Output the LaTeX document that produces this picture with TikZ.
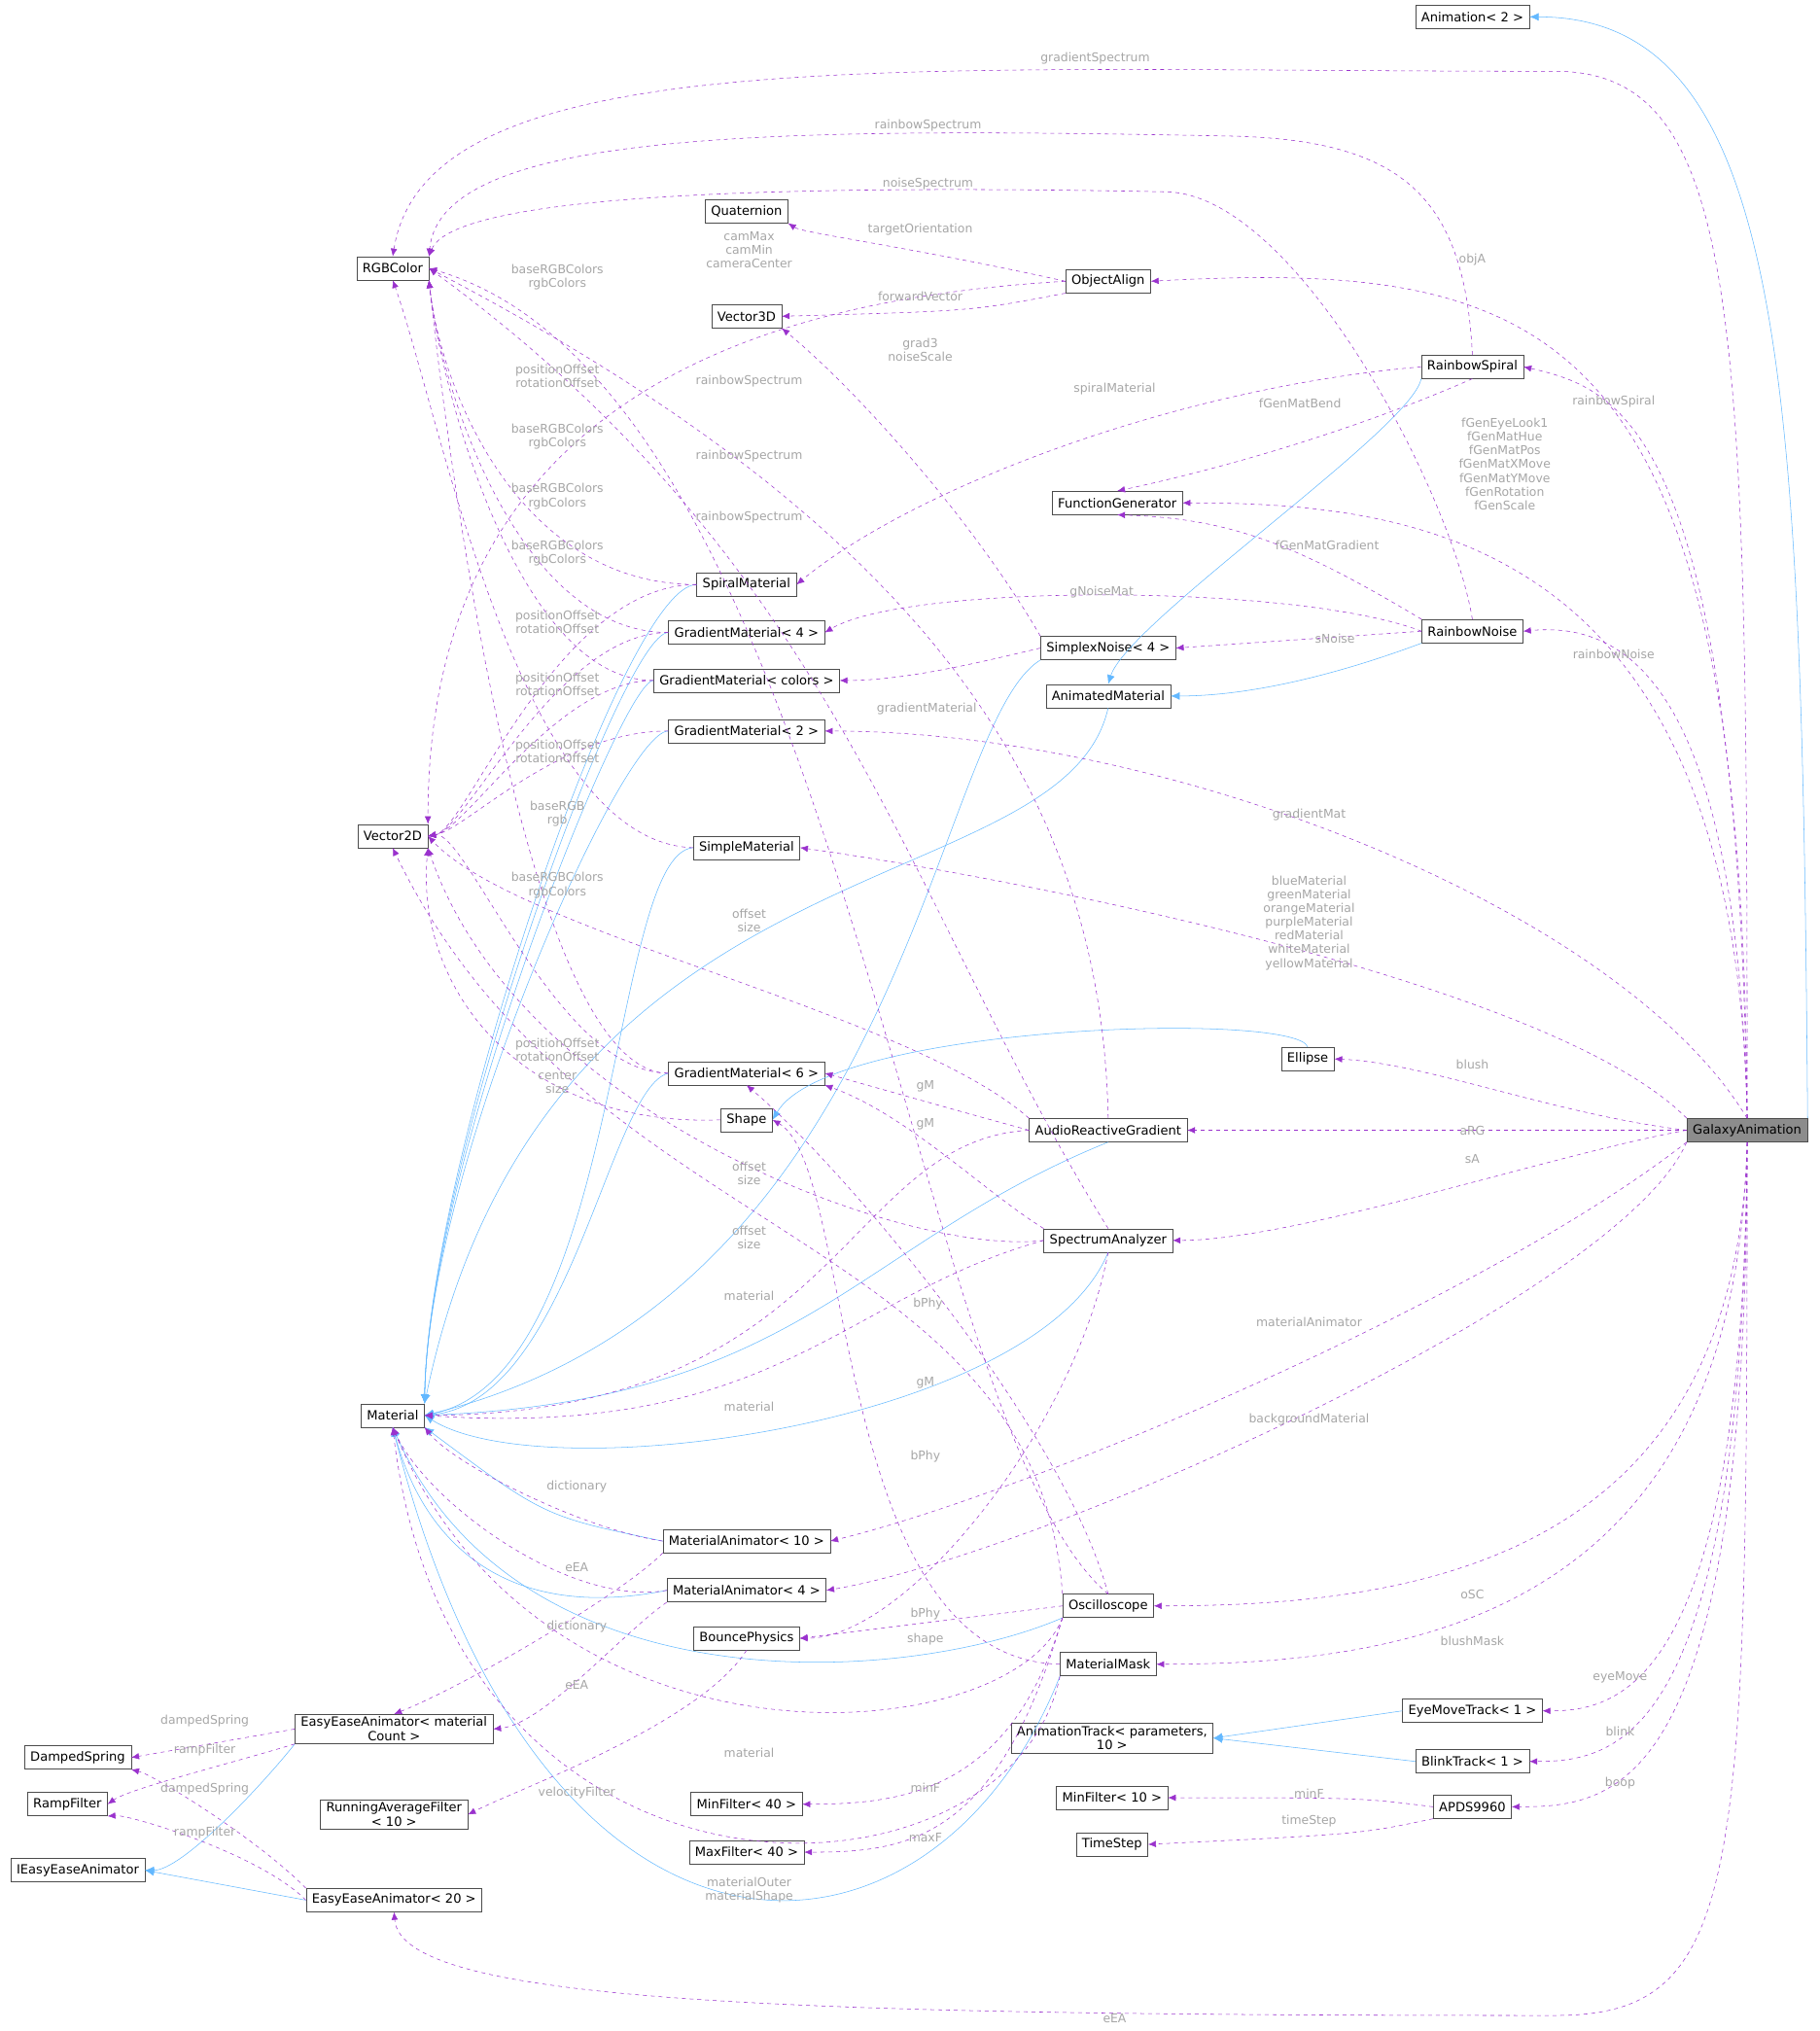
\documentclass[tikz,border=0pt]{standalone}
\usepackage{fontspec}
\setmainfont{DejaVu Sans}
\usetikzlibrary{arrows.meta}
\definecolor{usec}{HTML}{9A32CD}
\definecolor{inhc}{HTML}{63B8FF}
\begin{document}
\begin{tikzpicture}[x=1pt,y=-1pt,
 box/.style={draw=black!70,fill=white,font=\fontsize{9.8}{11}\selectfont,inner xsep=4.5pt,inner ysep=2pt,minimum height=18pt,align=center},
 use/.style={draw=usec,dashed,-{Latex[length=6pt,width=5pt]}},
 inh/.style={draw=inhc,-{Latex[length=7pt,width=6pt]}},
 lbl/.style={text=black!35,font=\fontsize{9.3}{10.6}\selectfont,align=center}]
\useasboundingbox (0,0) rectangle (1404,1567);
% nodes
\node[box] (anim) at (1136,13) {Animation< 2 >};
\node[box] (rgb) at (303,207) {RGBColor};
\node[box] (quat) at (576,163) {Quaternion};
\node[box] (oa) at (855,217) {ObjectAlign};
\node[box] (v3) at (576,244) {Vector3D};
\node[box] (rs) at (1136,283) {RainbowSpiral};
\node[box] (fg) at (862,388) {FunctionGenerator};
\node[box] (sm) at (576,451) {SpiralMaterial};
\node[box] (g4) at (576,488) {GradientMaterial< 4 >};
\node[box] (gc) at (576,525) {GradientMaterial< colors >};
\node[box] (g2) at (576,564) {GradientMaterial< 2 >};
\node[box] (sn) at (855,500) {SimplexNoise< 4 >};
\node[box] (rn) at (1136,487) {RainbowNoise};
\node[box] (am) at (855,537) {AnimatedMaterial};
\node[box] (v2) at (303,645) {Vector2D};
\node[box] (simp) at (576,654) {SimpleMaterial};
\node[box] (ell) at (1009,817) {Ellipse};
\node[box] (g6) at (576,828) {GradientMaterial< 6 >};
\node[box] (shape) at (576,864) {Shape};
\node[box] (arg) at (855,872) {AudioReactiveGradient};
\node[box,fill=black!45] (gal) at (1348,872) {GalaxyAnimation};
\node[box] (sa) at (855,957) {SpectrumAnalyzer};
\node[box] (mat) at (303,1092) {Material};
\node[box] (ma10) at (576,1189) {MaterialAnimator< 10 >};
\node[box] (ma4) at (576,1227) {MaterialAnimator< 4 >};
\node[box] (osc) at (855,1239) {Oscilloscope};
\node[box] (bp) at (576,1264) {BouncePhysics};
\node[box] (mm) at (855,1284) {MaterialMask};
\node[box] (eemc) at (304,1334) {EasyEaseAnimator< material\\Count >};
\node[box] (ds) at (60,1356) {DampedSpring};
\node[box] (rf) at (52,1392) {RampFilter};
\node[box] (iee) at (60,1443) {IEasyEaseAnimator};
\node[box] (ee20) at (304,1466) {EasyEaseAnimator< 20 >};
\node[box] (raf) at (304,1400) {RunningAverageFilter\\< 10 >};
\node[box] (at) at (858,1341) {AnimationTrack< parameters,\\10 >};
\node[box] (emt) at (1136,1320) {EyeMoveTrack< 1 >};
\node[box] (bt) at (1136,1359) {BlinkTrack< 1 >};
\node[box] (min40) at (576,1392) {MinFilter< 40 >};
\node[box] (max40) at (576,1429) {MaxFilter< 40 >};
\node[box] (min10) at (858,1387) {MinFilter< 10 >};
\node[box] (ts) at (858,1423) {TimeStep};
\node[box] (apds) at (1136,1394) {APDS9960};
% inheritance
\draw[inh] (gal.north east) .. controls (1390,300) and (1380,13) .. (anim.east);
\draw[inh] (rs.south west) .. controls (1090,330) and (870,480) .. (am.north);
\draw[inh] (rn.south west) .. controls (1060,510) and (980,537) .. (am.east);
\foreach \s in {sm,g4,gc,g2} \draw[inh] (\s.west) .. controls (480,0 |- \s.west) and (330,900) .. (mat.north east);
\draw[inh] (sn.south west) .. controls (720,560) and (700,1000) .. (mat.east);
\draw[inh] (am.south) .. controls (820,700) and (420,640) .. (mat.north east);
\draw[inh] (simp.west) .. controls (470,660) and (480,1060) .. (mat.east);
\draw[inh] (g6.west) .. controls (470,840) and (440,1080) .. (mat.east);
\draw[inh] (arg.south) .. controls (660,960) and (620,1080) .. (mat.east);
\draw[inh] (sa.south) .. controls (800,1100) and (420,1150) .. (mat.east);
\draw[inh] (ma10.west) .. controls (420,1170) .. (mat.south east);
\draw[inh] (ma4.west) .. controls (400,1250) and (330,1200) .. (mat.south);
\draw[inh] (osc.south west) .. controls (700,1300) and (400,1320) .. (mat.south);
\draw[inh] (mm.south west) .. controls (720,1540) and (420,1560) .. (mat.south);
\draw[inh] (ell.north) .. controls (1000,780) and (640,790) .. (shape.east);
\draw[inh] (eemc.south west) .. controls (200,1380) and (140,1443) .. (iee.east);
\draw[inh] (ee20.west) -- (iee.east);
\draw[inh] (emt.west) -- (at.east);
\draw[inh] (bt.west) -- (at.east);
% usage from GalaxyAnimation
\draw[use] (gal.north) .. controls (1348,250) and (1345,55) .. (1200,55) .. controls (700,55) and (330,30) .. (rgb.north);
\draw[use] (gal.north) .. controls (1345,250) and (1200,200) .. (oa.east);
\draw[use] (gal.north) .. controls (1340,330) and (1250,300) .. (rs.east);
\draw[use] (gal.north) .. controls (1340,420) and (1100,388) .. (fg.east);
\draw[use] (gal.north) .. controls (1340,520) and (1250,480) .. (rn.east);
\draw[use] (gal.north) .. controls (1250,700) and (900,564) .. (g2.east);
\draw[use] (gal.north west) .. controls (1200,760) and (800,680) .. (simp.east);
\draw[use] (gal.west) .. controls (1200,860) and (1100,820) .. (ell.east);
\draw[use] (gal.west) -- (arg.east);
\draw[use] (gal.west) .. controls (1200,890) and (1000,957) .. (sa.east);
\draw[use] (gal.south west) .. controls (1150,1000) and (800,1150) .. (ma10.east);
\draw[use] (gal.south west) .. controls (1250,1000) and (800,1200) .. (ma4.east);
\draw[use] (gal.south) .. controls (1340,1200) and (1100,1239) .. (osc.east);
\draw[use] (gal.south) .. controls (1340,1240) and (1100,1284) .. (mm.east);
\draw[use] (gal.south) .. controls (1345,1300) and (1250,1320) .. (emt.east);
\draw[use] (gal.south) .. controls (1345,1340) and (1250,1359) .. (bt.east);
\draw[use] (gal.south) .. controls (1348,1380) and (1250,1394) .. (apds.east);
\draw[use] (gal.south) .. controls (1348,1450) and (1345,1555) .. (1200,1555) .. controls (600,1555) and (310,1545) .. (ee20.south);
% other usage
\draw[use] (rs.north) .. controls (1130,150) and (1080,108) .. (950,105) .. controls (600,98) and (340,100) .. (rgb.north east);
\draw[use] (rn.north) .. controls (1120,380) and (1000,150) .. (900,148) .. controls (600,142) and (350,150) .. (rgb.north east);
\draw[use] (oa.west) .. controls (700,190) and (620,180) .. (quat.south east);
\draw[use] (oa.south west) .. controls (750,240) .. (v3.east);
\draw[use] (oa.west) .. controls (600,230) and (330,300) .. (v2.north east);
\draw[use] (rs.west) .. controls (900,300) and (700,380) .. (sm.east);
\draw[use] (rs.south) .. controls (1050,330) and (950,360) .. (fg.north);
\draw[use] (rn.north west) .. controls (1000,420) and (950,400) .. (fg.south);
\draw[use] (rn.west) .. controls (1000,450) and (700,450) .. (g4.east);
\draw[use] (rn.west) -- (sn.east);
\draw[use] (sn.north west) .. controls (750,400) and (660,300) .. (v3.south east);
\draw[use] (sn.west) .. controls (760,510) and (700,525) .. (gc.east);
\foreach \s in {sm,g4,gc,g6} \draw[use] (\s.west) .. controls (400,0 |- \s.west) and (340,300) .. (rgb.south east);
\draw[use] (simp.west) .. controls (400,650) and (340,320) .. (rgb.south);
\foreach \s in {sm,g4,gc,g2,g6} \draw[use] (\s.west) .. controls (430,0 |- \s.west) and (360,640) .. (v2.east);
\draw[use] (shape.west) .. controls (400,870) and (320,760) .. (v2.south east);
\draw[use] (arg.west) .. controls (750,860) .. (g6.east);
\draw[use] (arg.north west) .. controls (700,780) and (400,720) .. (v2.east);
\draw[use] (arg.north) .. controls (850,600) and (700,400) .. (rgb.east);
\draw[use] (arg.west) .. controls (650,880) and (650,1090) .. (mat.east);
\draw[use] (sa.north west) .. controls (760,920) and (700,860) .. (g6.south east);
\draw[use] (sa.west) .. controls (700,970) and (400,860) .. (v2.south east);
\draw[use] (sa.north) .. controls (700,700) and (650,440) .. (rgb.east);
\draw[use] (sa.west) .. controls (650,1000) and (600,1110) .. (mat.east);
\draw[use] (sa.south) .. controls (830,1100) and (700,1264) .. (bp.east);
\draw[use] (osc.north) .. controls (820,1100) and (650,900) .. (g6.south);
\draw[use] (osc.north west) .. controls (800,950) and (450,960) .. (v2.south);
\draw[use] (osc.north) .. controls (700,1100) and (650,300) .. (rgb.east);
\draw[use] (osc.west) -- (bp.east);
\draw[use] (osc.south west) .. controls (780,1350) and (420,1380) .. (mat.south);
\draw[use] (osc.south west) .. controls (780,1380) and (700,1392) .. (min40.east);
\draw[use] (osc.south west) .. controls (770,1420) and (700,1429) .. (max40.east);
\draw[use] (mm.west) .. controls (640,1280) and (660,900) .. (shape.east);
\draw[use] (mm.south west) .. controls (780,1480) and (350,1500) .. (mat.south);
\draw[use] (ma10.west) .. controls (450,1180) and (350,1130) .. (mat.south east);
\draw[use] (ma4.west) .. controls (440,1240) and (330,1160) .. (mat.south);
\draw[use] (ma10.south west) .. controls (480,1230) and (360,1300) .. (eemc.north);
\draw[use] (ma4.south west) .. controls (480,1260) and (420,1330) .. (eemc.east);
\draw[use] (bp.south) .. controls (540,1330) and (400,1380) .. (raf.east);
\draw[use] (eemc.west) -- (ds.east);
\draw[use] (eemc.south west) .. controls (180,1360) and (100,1380) .. (rf.east);
\draw[use] (ee20.north west) .. controls (200,1420) and (120,1370) .. (ds.south east);
\draw[use] (ee20.west) .. controls (200,1430) and (100,1400) .. (rf.south east);
\draw[use] (apds.west) .. controls (1050,1387) .. (min10.east);
\draw[use] (apds.south west) .. controls (1050,1415) .. (ts.east);
% labels
\node[lbl] at (845,45) {gradientSpectrum};
\node[lbl] at (716,97) {rainbowSpectrum};
\node[lbl] at (716,142) {noiseSpectrum};
\node[lbl] at (710,177) {targetOrientation};
\node[lbl] at (1136,200) {objA};
\node[lbl] at (578,193) {camMax\\camMin\\cameraCenter};
\node[lbl] at (430,214) {baseRGBColors\\rgbColors};
\node[lbl] at (710,229) {forwardVector};
\node[lbl] at (710,270) {grad3\\noiseScale};
\node[lbl] at (430,290) {positionOffset\\rotationOffset};
\node[lbl] at (578,294) {rainbowSpectrum};
\node[lbl] at (860,300) {spiralMaterial};
\node[lbl] at (1003,311) {fGenMatBend};
\node[lbl] at (1245,310) {rainbowSpiral};
\node[lbl] at (1161,358) {fGenEyeLook1\\fGenMatHue\\fGenMatPos\\fGenMatXMove\\fGenMatYMove\\fGenRotation\\fGenScale};
\node[lbl] at (430,337) {baseRGBColors\\rgbColors};
\node[lbl] at (578,352) {rainbowSpectrum};
\node[lbl] at (430,383) {baseRGBColors\\rgbColors};
\node[lbl] at (578,399) {rainbowSpectrum};
\node[lbl] at (1024,421) {fGenMatGradient};
\node[lbl] at (430,427) {baseRGBColors\\rgbColors};
\node[lbl] at (430,480) {positionOffset\\rotationOffset};
\node[lbl] at (850,457) {gNoiseMat};
\node[lbl] at (1030,493) {sNoise};
\node[lbl] at (1245,505) {rainbowNoise};
\node[lbl] at (430,528) {positionOffset\\rotationOffset};
\node[lbl] at (715,547) {gradientMaterial};
\node[lbl] at (430,580) {positionOffset\\rotationOffset};
\node[lbl] at (430,628) {baseRGB\\rgb};
\node[lbl] at (1010,629) {gradientMat};
\node[lbl] at (430,683) {baseRGBColors\\rgbColors};
\node[lbl] at (578,710) {offset\\size};
\node[lbl] at (1010,712) {blueMaterial\\greenMaterial\\orangeMaterial\\purpleMaterial\\redMaterial\\whiteMaterial\\yellowMaterial};
\node[lbl] at (430,810) {positionOffset\\rotationOffset};
\node[lbl] at (1136,821) {blush};
\node[lbl] at (714,838) {gM};
\node[lbl] at (430,835) {center\\size};
\node[lbl] at (714,867) {gM};
\node[lbl] at (1136,872) {aRG};
\node[lbl] at (1136,894) {sA};
\node[lbl] at (578,905) {offset\\size};
\node[lbl] at (578,955) {offset\\size};
\node[lbl] at (578,1000) {material};
\node[lbl] at (716,1006) {bPhy};
\node[lbl] at (1010,1020) {materialAnimator};
\node[lbl] at (714,1067) {gM};
\node[lbl] at (578,1085) {material};
\node[lbl] at (1010,1095) {backgroundMaterial};
\node[lbl] at (714,1124) {bPhy};
\node[lbl] at (445,1147) {dictionary};
\node[lbl] at (445,1209) {eEA};
\node[lbl] at (1136,1230) {oSC};
\node[lbl] at (445,1255) {dictionary};
\node[lbl] at (714,1245) {bPhy};
\node[lbl] at (714,1265) {shape};
\node[lbl] at (1136,1266) {blushMask};
\node[lbl] at (445,1300) {eEA};
\node[lbl] at (1250,1294) {eyeMove};
\node[lbl] at (158,1328) {dampedSpring};
\node[lbl] at (158,1350) {rampFilter};
\node[lbl] at (1250,1336) {blink};
\node[lbl] at (578,1352) {material};
\node[lbl] at (445,1383) {velocityFilter};
\node[lbl] at (158,1380) {dampedSpring};
\node[lbl] at (714,1379) {minF};
\node[lbl] at (1250,1376) {boop};
\node[lbl] at (1010,1384) {minF};
\node[lbl] at (158,1414) {rampFilter};
\node[lbl] at (1010,1405) {timeStep};
\node[lbl] at (714,1418) {maxF};
\node[lbl] at (578,1458) {materialOuter\\materialShape};
\node[lbl] at (860,1557) {eEA};
\end{tikzpicture}
\end{document}
